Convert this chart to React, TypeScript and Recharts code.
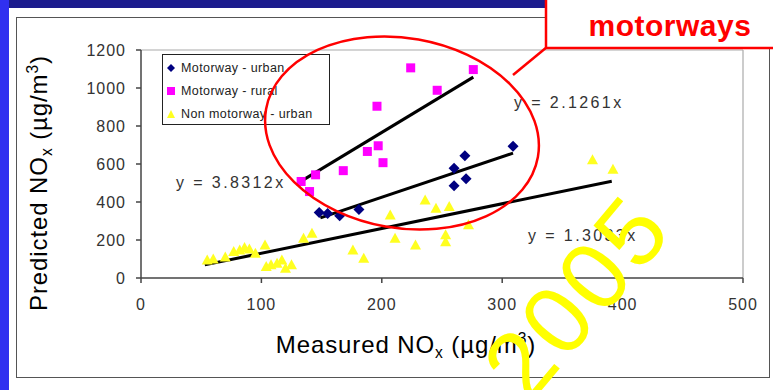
import React from "react";
import {
  ReferenceLine,
  Scatter,
  ScatterChart,
  XAxis,
  YAxis,
} from "recharts";

const motorwayUrban = [
  { x: 148, y: 345 },
  { x: 155, y: 340 },
  { x: 165, y: 328 },
  { x: 181, y: 360 },
  { x: 260, y: 485 },
  { x: 260, y: 578 },
  { x: 270, y: 522 },
  { x: 269, y: 643 },
  { x: 309, y: 693 },
];

const motorwayRural = [
  { x: 133, y: 508 },
  { x: 140, y: 455 },
  { x: 145, y: 543 },
  { x: 168, y: 565 },
  { x: 188, y: 666 },
  { x: 197, y: 696 },
  { x: 201, y: 607 },
  { x: 196, y: 904 },
  { x: 224, y: 1106 },
  { x: 246, y: 988 },
  { x: 276, y: 1097 },
];

const nonMotorwayUrban = [
  { x: 55, y: 95 },
  { x: 60, y: 100 },
  { x: 70, y: 110 },
  { x: 77, y: 139 },
  { x: 82, y: 148 },
  { x: 86, y: 160 },
  { x: 90, y: 152 },
  { x: 95, y: 130 },
  { x: 103, y: 174 },
  { x: 104, y: 60 },
  { x: 108, y: 70 },
  { x: 113, y: 78 },
  { x: 117, y: 95 },
  { x: 120, y: 51 },
  { x: 125, y: 70 },
  { x: 135, y: 209 },
  { x: 142, y: 236 },
  { x: 176, y: 148 },
  { x: 185, y: 104 },
  { x: 207, y: 332 },
  { x: 211, y: 209 },
  { x: 228, y: 174 },
  { x: 236, y: 411 },
  { x: 245, y: 367 },
  { x: 256, y: 376 },
  { x: 253, y: 227 },
  { x: 253, y: 191 },
  { x: 272, y: 280 },
  { x: 375, y: 622 },
  { x: 392, y: 573 },
];

const seriesNames = ["Motorway - urban", "Motorway - rural", "Non motorway - urban"];

// fitted lines through the origin, drawn over the range of each series
const trendRural = { slope: 3.8312, from: 130, to: 276 };
const trendUrban = { slope: 2.1261, from: 149, to: 309 };
const trendNonMotorway = { slope: 1.3033, from: 53, to: 391 };

const xTicks = [0, 100, 200, 300, 400, 500];
const yTicks = [0, 200, 400, 600, 800, 1000, 1200];

const FONT = "'Liberation Sans', Arial, sans-serif";
const NAVY = "#000080";
const MAGENTA = "#ff00ff";
const YELLOW = "#ffff20";

const Diamond = ({ cx, cy }: any) => (
  <polygon
    points={`${cx},${cy - 5.5} ${cx + 5.5},${cy} ${cx},${cy + 5.5} ${cx - 5.5},${cy}`}
    fill={NAVY}
  />
);
const Square = ({ cx, cy }: any) => (
  <rect x={cx - 4.5} y={cy - 4.5} width={9} height={9} fill={MAGENTA} />
);
const Triangle = ({ cx, cy }: any) => (
  <polygon
    points={`${cx},${cy - 5.5} ${cx + 5.5},${cy + 4.5} ${cx - 5.5},${cy + 4.5}`}
    fill={YELLOW}
  />
);

const legendIcons = [
  <polygon points="5,1 9,5 5,9 1,5" fill={NAVY} />,
  <rect x={1} y={1} width={8} height={8} fill={MAGENTA} />,
  <polygon points="5,1 9,9 1,9" fill={YELLOW} />,
];

const seg = (t: { slope: number; from: number; to: number }) =>
  [
    { x: t.from, y: t.slope * t.from },
    { x: t.to, y: t.slope * t.to },
  ] as any;

const tickStyle = { fontFamily: FONT, fontSize: 16, fill: "#333", letterSpacing: 1 };

const eqStyle: React.CSSProperties = {
  position: "absolute",
  fontFamily: FONT,
  fontSize: 16,
  color: "#333",
  letterSpacing: 2.4,
  whiteSpace: "nowrap",
  lineHeight: "18px",
};

const titleStyle: React.CSSProperties = {
  position: "absolute",
  fontFamily: FONT,
  fontSize: 24,
  color: "#000",
  whiteSpace: "nowrap",
  letterSpacing: 0.9,
};

const sub = { fontSize: "0.65em" };

export default function App() {
  return (
    <div
      style={{
        position: "absolute",
        left: 0,
        top: 0,
        width: 773,
        height: 390,
        overflow: "hidden",
        background: "#fff",
      }}
    >
      {/* slide decoration */}
      <div style={{ position: "absolute", left: 0, top: 0, width: 773, height: 8, background: "#1c1c8e" }} />
      <div style={{ position: "absolute", left: 0, top: 0, width: 9, height: 390, background: "#3030f0" }} />
      <div
        style={{
          position: "absolute",
          left: 16,
          top: 17,
          width: 754,
          height: 361,
          boxSizing: "border-box",
          border: "1.5px solid #555",
        }}
      />

      <div style={{ position: "absolute", left: 0, top: 0 }}>
        <ScatterChart
          width={773}
          height={390}
          margin={{ top: 50, right: 30, bottom: 0, left: 0 }}
        >
          <XAxis
            type="number"
            dataKey="x"
            domain={[0, 500]}
            ticks={xTicks}
            height={112}
            tickSize={5}
            tickMargin={16}
            tick={tickStyle}
            stroke="#444"
            strokeWidth={1.5}
          />
          <YAxis
            type="number"
            dataKey="y"
            domain={[0, 1200]}
            ticks={yTicks}
            width={141}
            tickSize={5}
            tickMargin={10}
            tick={tickStyle}
            stroke="#444"
            strokeWidth={1.5}
          />
          <ReferenceLine y={1200} stroke="#aaa" strokeWidth={1.2} />
          <ReferenceLine x={500} stroke="#aaa" strokeWidth={1.2} />
          <Scatter
            name={seriesNames[0]}
            data={motorwayUrban}
            fill={NAVY}
            shape={<Diamond />}
            isAnimationActive={false}
          />
          <Scatter
            name={seriesNames[1]}
            data={motorwayRural}
            fill={MAGENTA}
            shape={<Square />}
            isAnimationActive={false}
          />
          <Scatter
            name={seriesNames[2]}
            data={nonMotorwayUrban}
            fill={YELLOW}
            shape={<Triangle />}
            isAnimationActive={false}
          />
          <ReferenceLine segment={seg(trendRural)} stroke="#000" strokeWidth={3} />
          <ReferenceLine segment={seg(trendUrban)} stroke="#000" strokeWidth={3} />
          <ReferenceLine segment={seg(trendNonMotorway)} stroke="#000" strokeWidth={3} />
        </ScatterChart>
      </div>

      {/* legend */}
      <div
        style={{
          position: "absolute",
          left: 162,
          top: 54,
          width: 168,
          height: 71,
          boxSizing: "border-box",
          border: "1.5px solid #222",
          background: "#fff",
          padding: "1px 0 0 3px",
          fontFamily: FONT,
          fontSize: 12.5,
          color: "#222",
        }}
      >
        {seriesNames.map((name, i) => (
          <div key={name} style={{ display: "flex", alignItems: "center", height: 23 }}>
            <svg width={12} height={10} style={{ marginRight: 3 }}>
              {legendIcons[i]}
            </svg>
            <span style={{ letterSpacing: 0.4 }}>{name}</span>
          </div>
        ))}
      </div>

      {/* trendline equations */}
      <div style={{ ...eqStyle, left: 176, top: 174 }}>y = 3.8312x</div>
      <div style={{ ...eqStyle, left: 514, top: 94 }}>y = 2.1261x</div>
      <div style={{ ...eqStyle, left: 528, top: 227 }}>y = 1.3033x</div>

      {/* axis titles */}
      <div
        style={{
          ...titleStyle,
          left: 40,
          top: 183,
          transform: "translate(-50%, -50%) rotate(-90deg)",
        }}
      >
        Predicted NO<sub style={sub}>x</sub> (µg/m<sup style={sub}>3</sup>)
      </div>
      <div
        style={{
          ...titleStyle,
          left: 406,
          top: 346,
          transform: "translate(-50%, -50%)",
        }}
      >
        Measured NO<sub style={sub}>x</sub> (µg/m<sup style={sub}>3</sup>)
      </div>

      {/* annotation: circle, callout box, watermark */}
      <svg
        width={773}
        height={390}
        style={{ position: "absolute", left: 0, top: 0, pointerEvents: "none" }}
      >
        <ellipse
          cx={402}
          cy={133}
          rx={138}
          ry={95}
          transform="rotate(10 402 133)"
          fill="none"
          stroke="#ff0000"
          strokeWidth={2.5}
        />
        <line x1={513} y1={75} x2={547} y2={47} stroke="#ff0000" strokeWidth={2.5} />
        <rect x={546} y={-4} width={240} height={52} fill="#fff" stroke="#ff0000" strokeWidth={2.5} />
        <text
          x={670}
          y={36}
          textAnchor="middle"
          fontFamily={FONT}
          fontWeight="bold"
          fontSize={30}
          letterSpacing={0.5}
          fill="#ff0000"
        >
          motorways
        </text>
        <text
          x={0}
          y={0}
          transform="translate(676 230) rotate(-50)"
          textAnchor="end"
          fontFamily={FONT}
          fontSize={96}
          letterSpacing={4}
          fill="#ffff00"
        >
          2005
        </text>
      </svg>
    </div>
  );
}
